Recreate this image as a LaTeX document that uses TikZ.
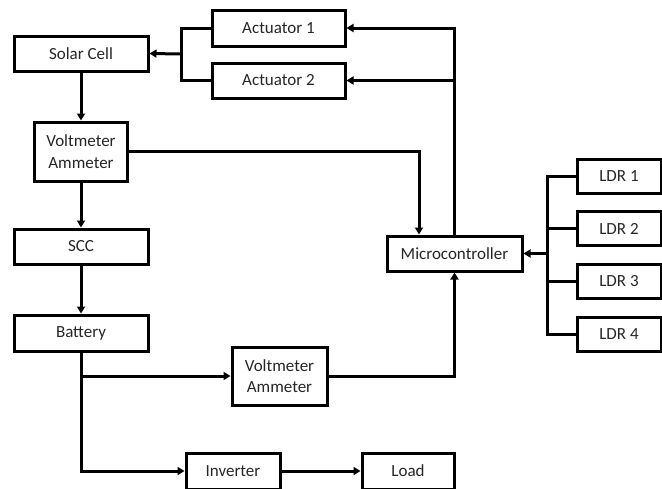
\documentclass[tikz,border=0pt]{standalone}
\usepackage{fontspec}
\setmainfont{Carlito}
\usepackage{tikz}
\usetikzlibrary{
  	positioning,
  	arrows.meta,
  	calc
  }
\tikzstyle{block}=[draw,line width=3pt,text=black!85,align=center,
  font=\fontsize{17}{21.5}\selectfont,inner sep=0pt,minimum height=35pt]
\tikzstyle{link}=[line width=3pt]
\tikzstyle{arr}=[line width=3pt,-{Triangle[length=7pt,width=8pt]}]

\begin{document}
\begin{tikzpicture}[x=1pt,y=-1pt]
  \useasboundingbox (0,0) rectangle (662,488);
  \node[block,minimum width=134pt] (solar) at (81,53.5) {Solar Cell};
  \node[block,minimum width=133pt,minimum height=36pt] (act1) at (278.5,28) {Actuator 1};
  \node[block,minimum width=133pt] (act2) at (278.5,80.5) {Actuator 2};
  \node[block,minimum width=93pt,minimum height=59pt] (vam1) at (81,151.5) {Voltmeter\\Ammeter};
  \node[block,minimum width=134pt] (scc) at (81,246.5) {SCC};
  \node[block,minimum width=134pt,minimum height=36pt] (bat) at (81,333) {Battery};
  \node[block,minimum width=135pt] (micro) at (454.5,253.5) {Microcontroller};
  \node[block,minimum width=95pt,minimum height=58pt] (vam2) at (279.5,376) {Voltmeter\\Ammeter};
  \node[block,minimum width=94pt,minimum height=36pt] (inv) at (233,471) {Inverter};
  \node[block,minimum width=92pt,minimum height=36pt] (load) at (408,471) {Load};
  \foreach \i/\y in {1/176,2/228.5,3/281,4/334}
    \node[block,minimum width=84pt,minimum height=34pt] (ldr\i) at (619,\y) {LDR \i};
%
  \coordinate (jact) at (181,54);
  \draw[link] (act1.west) -| (jact) |- (act2.west);
  \draw[arr] (jact) -- (solar.east);
  \draw[arr] (micro.north) |- (act1.east);
  \draw[arr] (micro.north |- act2.east) -- (act2.east);
%
  \draw[arr] (solar.south) -- (vam1.north);
  \draw[arr] (vam1.south) -- (scc.north);
  \draw[arr] (scc.south) -- (bat.north);
  \draw[arr] (vam1.east) -| ([xshift=-35.5pt]micro.north);
%
  \draw[arr] (bat.south) |- (inv.west);
  \draw[arr] (bat.south |- vam2.west) -- (vam2.west);
  \draw[arr] (vam2.east) -| (micro.south);
  \draw[arr] (inv.east) -- (load.west);
%
  \coordinate (jldr) at ($(ldr1.west)+(-28,0)$);
  \draw[link] (ldr1.west) -- (jldr) |- (ldr4.west);
  \foreach \i in {2,3}
    \draw[link] (ldr\i.west) -- (jldr |- ldr\i.west);
  \draw[arr] (jldr |- micro.east) -- (micro.east);
\end{tikzpicture}
\end{document}
